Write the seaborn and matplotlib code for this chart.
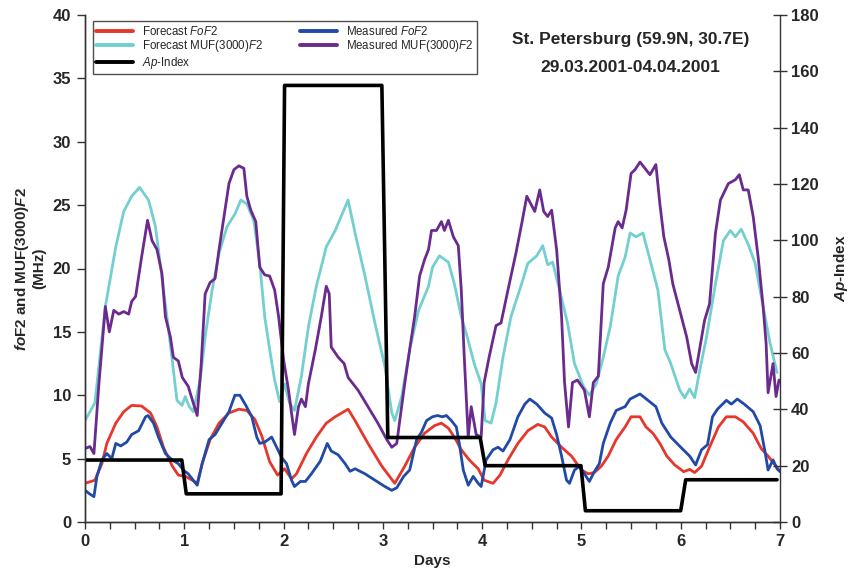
import matplotlib
matplotlib.use("Agg")
import matplotlib.pyplot as plt
from matplotlib.ticker import MultipleLocator
import seaborn as sns

# ── data (days, MHz / Ap) ─────────────────────────────────────────────────────
fc_muf_day = [0.0, 0.10, 0.205, 0.31, 0.39, 0.47, 0.55, 0.64, 0.71, 0.775, 0.825, 0.875, 0.926, 0.977,
              1.01, 1.05, 1.09, 1.16, 1.21, 1.28, 1.35, 1.43, 1.51, 1.57, 1.63, 1.70, 1.76, 1.81, 1.86,
              1.91, 1.96, 2.01, 2.06, 2.11, 2.18, 2.25, 2.33, 2.43, 2.52, 2.59, 2.65, 2.72, 2.82, 2.92,
              3.02, 3.09, 3.12, 3.19, 3.27, 3.36, 3.46, 3.50, 3.57, 3.66, 3.72, 3.79, 3.85, 3.92, 3.99,
              4.03, 4.09, 4.14, 4.21, 4.29, 4.39, 4.46, 4.55, 4.61, 4.66, 4.71, 4.78, 4.86, 4.93, 5.02,
              5.08, 5.15, 5.22, 5.29, 5.37, 5.44, 5.49, 5.55, 5.62, 5.69, 5.77, 5.84, 5.90, 5.99, 6.04,
              6.09, 6.14, 6.19, 6.26, 6.35, 6.43, 6.50, 6.55, 6.61, 6.68, 6.75, 6.83, 6.90, 6.97]
fc_muf_val = [8.0, 9.4, 17.0, 21.7, 24.5, 25.7, 26.4, 25.4, 23.3, 19.3, 16.2, 13.0, 9.6, 9.2,
              9.9, 9.1, 8.7, 11.2, 14.6, 18.3, 21.2, 23.3, 24.3, 25.4, 25.1, 23.8, 20.4, 16.2, 13.6,
              11.2, 9.5, 10.9, 9.4, 8.8, 11.5, 15.4, 18.6, 21.7, 23.0, 24.3, 25.4, 22.8, 19.4, 15.7,
              12.3, 8.6, 8.0, 9.9, 13.6, 16.7, 18.6, 20.1, 21.0, 20.5, 18.8, 16.2, 14.6, 12.5, 10.9,
              8.0, 7.8, 9.4, 13.0, 16.2, 18.6, 20.4, 21.0, 21.8, 20.3, 20.5, 18.3, 15.7, 12.5, 10.7,
              10.0, 10.9, 13.0, 15.4, 19.4, 20.9, 22.8, 22.5, 22.8, 20.7, 18.3, 13.6, 12.5, 10.4, 9.8,
              10.5, 9.8, 11.9, 14.6, 18.8, 22.2, 23.0, 22.5, 23.1, 21.9, 20.4, 17.0, 14.1, 11.8]

ms_muf_day = [0.0, 0.05, 0.09, 0.14, 0.18, 0.205, 0.245, 0.29, 0.34, 0.39, 0.44, 0.47, 0.51, 0.57, 0.63,
              0.675, 0.725, 0.775, 0.81, 0.86, 0.89, 0.94, 0.98, 1.04, 1.09, 1.13, 1.17, 1.21, 1.26,
              1.31, 1.35, 1.40, 1.45, 1.50, 1.55, 1.60, 1.63, 1.67, 1.72, 1.76, 1.81, 1.86, 1.91, 1.95,
              2.0, 2.05, 2.08, 2.11, 2.15, 2.18, 2.22, 2.25, 2.32, 2.38, 2.43, 2.46, 2.48, 2.55, 2.61,
              2.65, 2.75, 2.85, 2.95, 3.04, 3.09, 3.14, 3.17, 3.22, 3.27, 3.32, 3.37, 3.42, 3.46, 3.49,
              3.54, 3.59, 3.62, 3.66, 3.71, 3.76, 3.79, 3.82, 3.86, 3.89, 3.94, 3.99, 4.02, 4.07, 4.14,
              4.19, 4.26, 4.34, 4.40, 4.45, 4.49, 4.53, 4.58, 4.62, 4.66, 4.70, 4.75, 4.80, 4.83, 4.87,
              4.91, 4.96, 5.03, 5.08, 5.12, 5.17, 5.22, 5.27, 5.34, 5.37, 5.41, 5.45, 5.50, 5.54, 5.59,
              5.64, 5.69, 5.75, 5.79, 5.83, 5.88, 5.92, 5.99, 6.06, 6.11, 6.15, 6.19, 6.24, 6.29, 6.35,
              6.40, 6.48, 6.55, 6.59, 6.63, 6.68, 6.73, 6.78, 6.83, 6.86, 6.88, 6.93, 6.96, 6.99]
ms_muf_val = [5.8, 5.95, 5.4, 10.9, 14.6, 17.0, 15.0, 16.7, 16.4, 16.6, 16.4, 17.4, 17.8, 20.9, 23.8,
              22.2, 21.5, 19.6, 16.2, 14.6, 13.0, 12.7, 11.4, 10.7, 9.4, 8.4, 12.4, 18.0, 18.9,
              19.2, 21.5, 24.1, 26.7, 27.8, 28.1, 27.9, 25.7, 24.6, 23.7, 20.1, 19.5, 19.4, 18.3, 16.2,
              12.8, 10.4, 8.6, 6.9, 9.1, 9.7, 9.1, 10.9, 13.6, 16.2, 18.6, 18.0, 13.8, 13.0, 12.5,
              11.4, 10.4, 9.1, 7.8, 6.5, 5.9, 6.2, 8.0, 10.9, 13.6, 16.2, 19.4, 20.7, 21.5, 23.0,
              23.0, 23.7, 23.0, 23.8, 22.5, 21.8, 18.3, 13.0, 6.7, 9.1, 6.9, 6.7, 11.0, 13.0, 15.5,
              15.7, 18.3, 21.2, 23.6, 25.7, 25.1, 24.5, 26.2, 24.5, 24.1, 24.6, 21.5, 16.2, 11.0, 7.5,
              11.0, 11.2, 10.4, 8.3, 11.0, 11.5, 18.8, 20.1, 23.2, 23.7, 23.2, 24.6, 27.5, 27.8, 28.4,
              27.9, 27.4, 28.2, 25.1, 22.5, 20.7, 18.8, 16.7, 14.6, 12.5, 11.8, 13.6, 15.9, 17.2, 22.8,
              25.4, 26.7, 27.0, 27.4, 26.2, 26.2, 24.1, 20.9, 17.0, 14.1, 10.2, 12.5, 9.9, 11.2]

fc_fof2_day = [0.0, 0.10, 0.17, 0.22, 0.31, 0.39, 0.47, 0.57, 0.66, 0.725, 0.79, 0.88, 0.94, 1.01, 1.08,
               1.13, 1.18, 1.26, 1.35, 1.45, 1.55, 1.63, 1.71, 1.78, 1.86, 1.94, 2.01, 2.08, 2.13, 2.23,
               2.33, 2.43, 2.52, 2.65, 2.72, 2.85, 2.99, 3.12, 3.22, 3.32, 3.42, 3.52, 3.59, 3.66, 3.72,
               3.79, 3.87, 3.96, 4.02, 4.11, 4.18, 4.26, 4.36, 4.46, 4.56, 4.63, 4.70, 4.80, 4.90, 5.00,
               5.07, 5.13, 5.20, 5.27, 5.35, 5.44, 5.50, 5.59, 5.65, 5.72, 5.79, 5.86, 5.94, 6.03, 6.09,
               6.14, 6.21, 6.29, 6.38, 6.46, 6.55, 6.63, 6.73, 6.81, 6.88, 6.95, 6.99]
fc_fof2_val = [3.05, 3.3, 4.6, 6.2, 7.8, 8.7, 9.2, 9.15, 8.6, 7.5, 5.9, 4.4, 3.7, 3.6, 3.3,
               3.05, 4.6, 6.5, 7.8, 8.6, 8.9, 8.8, 8.1, 6.8, 4.75, 3.7, 4.2, 3.4, 3.8, 5.4,
               6.7, 7.8, 8.3, 8.9, 8.0, 6.2, 4.4, 3.05, 4.4, 5.9, 7.0, 7.6, 7.8, 7.4, 6.7,
               5.7, 4.9, 4.2, 3.3, 3.05, 3.7, 4.9, 6.2, 7.2, 7.7, 7.5, 6.7, 5.9, 5.2, 4.1,
               3.8, 3.9, 4.4, 5.2, 6.5, 7.5, 8.3, 8.3, 7.5, 7.0, 6.2, 5.2, 4.5, 3.97, 4.15,
               3.9, 4.4, 5.9, 7.5, 8.3, 8.3, 7.9, 7.0, 5.8, 5.2, 4.5, 4.1]

ms_fof2_day = [0.0, 0.05, 0.09, 0.12, 0.17, 0.22, 0.27, 0.31, 0.36, 0.42, 0.47, 0.54, 0.61, 0.635, 0.69,
               0.74, 0.81, 0.876, 0.94, 0.99, 1.04, 1.09, 1.13, 1.18, 1.25, 1.31, 1.38, 1.45, 1.51, 1.56,
               1.62, 1.68, 1.73, 1.76, 1.81, 1.88, 1.93, 1.98, 2.03, 2.08, 2.11, 2.17, 2.22, 2.28, 2.37,
               2.44, 2.48, 2.55, 2.62, 2.67, 2.72, 2.82, 2.92, 3.02, 3.09, 3.14, 3.21, 3.27, 3.34, 3.39,
               3.44, 3.50, 3.55, 3.60, 3.64, 3.69, 3.74, 3.77, 3.81, 3.86, 3.91, 3.96, 3.99, 4.04, 4.11,
               4.16, 4.21, 4.28, 4.36, 4.43, 4.48, 4.55, 4.63, 4.70, 4.75, 4.80, 4.85, 4.88, 4.93, 4.98,
               5.03, 5.08, 5.13, 5.18, 5.22, 5.29, 5.35, 5.44, 5.49, 5.59, 5.67, 5.75, 5.81, 5.90, 6.00,
               6.09, 6.15, 6.21, 6.27, 6.32, 6.37, 6.46, 6.51, 6.57, 6.64, 6.73, 6.80, 6.85, 6.88, 6.93,
               6.97, 7.00]
ms_fof2_val = [2.5, 2.2, 2.0, 3.6, 4.9, 5.4, 5.0, 6.2, 6.0, 6.3, 6.9, 7.2, 8.3, 8.4, 7.8,
               6.7, 5.4, 4.9, 4.6, 4.1, 3.8, 3.3, 2.9, 4.6, 6.5, 6.9, 7.8, 8.7, 10.0, 10.0,
               9.2, 8.3, 6.7, 6.2, 6.3, 6.7, 5.9, 5.1, 4.6, 3.3, 2.8, 3.2, 3.2, 3.8, 4.8,
               6.2, 5.6, 5.3, 4.6, 4.0, 4.2, 3.8, 3.3, 2.8, 2.5, 2.7, 3.6, 4.1, 6.5, 7.1,
               8.0, 8.3, 8.4, 8.3, 8.4, 8.0, 7.5, 6.2, 4.1, 2.9, 3.6, 3.05, 2.8, 4.9, 5.7,
               5.9, 5.6, 6.5, 8.3, 9.3, 9.7, 9.3, 8.6, 8.2, 6.9, 5.2, 3.3, 3.05, 4.1, 4.4,
               3.8, 3.2, 3.97, 4.6, 6.2, 7.8, 8.8, 9.1, 9.7, 10.1, 9.6, 9.1, 7.8, 6.7, 5.9,
               5.2, 4.5, 5.7, 6.1, 8.3, 8.9, 9.6, 9.3, 9.7, 9.3, 8.7, 7.6, 5.5, 4.1, 4.9,
               4.2, 3.97]

ap_day = [0.0, 0.975, 1.02, 1.975, 2.01, 2.99, 3.05, 3.98, 4.03, 4.995, 5.04, 6.0, 6.05, 6.97]
ap_val = [22, 22, 10, 10, 155, 155, 30, 30, 20, 20, 4, 4, 15, 15]

# ── style ─────────────────────────────────────────────────────────────────────
sns.set_style("ticks")
plt.rcParams["font.family"] = ["Liberation Sans", "DejaVu Sans"]
plt.rcParams["mathtext.fontset"] = "custom"
plt.rcParams["mathtext.rm"] = "Liberation Sans"
plt.rcParams["mathtext.it"] = "Liberation Sans:italic"
plt.rcParams["mathtext.bf"] = "Liberation Sans:bold"
plt.rcParams["mathtext.bfit"] = "Liberation Sans:italic:bold"

C_RED, C_CYAN, C_BLUE, C_PURP = "#e5372b", "#74cfcf", "#2149a6", "#6b2a8e"
LW = 2.0

fig = plt.figure(figsize=(8.55, 5.74), dpi=100)
ax = fig.add_axes([85/855, 1-522/574, 695/855, 507/574])
ax2 = ax.twinx()

kw = dict(estimator=None, sort=False, lw=LW)
sns.lineplot(x=fc_fof2_day, y=fc_fof2_val, ax=ax, color=C_RED, label=r"Forecast $\mathit{FoF}$2", **kw)
sns.lineplot(x=fc_muf_day, y=fc_muf_val, ax=ax, color=C_CYAN, label=r"Forecast MUF(3000)$\mathit{F}$2", **kw)
sns.lineplot(x=ms_fof2_day, y=ms_fof2_val, ax=ax, color=C_BLUE, label=r"Measured $\mathit{FoF}$2", **kw)
sns.lineplot(x=ms_muf_day, y=ms_muf_val, ax=ax, color=C_PURP, label=r"Measured MUF(3000)$\mathit{F}$2", **kw)
sns.lineplot(x=ap_day, y=ap_val, ax=ax2, color="black", label=r"$\mathit{Ap}$-Index",
             estimator=None, sort=False, lw=2.6)

ax.set_xlim(0, 7); ax.set_ylim(0, 40)
ax2.set_ylim(0, 180)
ax.xaxis.set_major_locator(MultipleLocator(1))
ax.xaxis.set_minor_locator(MultipleLocator(0.25))
ax.yaxis.set_major_locator(MultipleLocator(5))
ax2.yaxis.set_major_locator(MultipleLocator(20))

for a in (ax, ax2):
    a.spines["top"].set_visible(False)
    for s in ("left", "right", "bottom"):
        a.spines[s].set_color("#333333"); a.spines[s].set_linewidth(1.0)
ax.spines["right"].set_visible(False)

ax.tick_params(axis="x", which="both", direction="out", length=5, width=1, color="#333333", pad=4)
ax.tick_params(axis="y", direction="out", length=6, width=1, color="#333333", pad=4)
ax2.tick_params(axis="y", direction="inout", length=10, width=1, color="#333333", pad=3)
for lab in ax.get_xticklabels() + ax.get_yticklabels() + ax2.get_yticklabels():
    lab.set_fontweight("bold"); lab.set_fontsize(12)

ax.set_xlabel("Days", fontsize=11, fontweight="bold", labelpad=3)
ax.set_ylabel(r"$\mathbfit{fo}\mathbf{F2}$ and MUF(3000)$\mathbfit{F}\mathbf{2}$" + "\n(MHz)",
              fontsize=11, fontweight="bold", linespacing=1.1)
ax.yaxis.set_label_coords(-0.056, 0.5)
ax2.set_ylabel(r"$\mathbfit{Ap}$-Index", fontsize=11, fontweight="bold")
ax2.yaxis.set_label_coords(1.075, 0.5)

ax.text(0.785, 0.951, "St. Petersburg (59.9N, 30.7E)", transform=ax.transAxes,
        ha="center", va="center", fontsize=12.5, fontweight="bold")
ax.text(0.785, 0.897, "29.03.2001-04.04.2001", transform=ax.transAxes,
        ha="center", va="center", fontsize=12.5, fontweight="bold")

# combined legend: forecast column / measured column
h1, l1 = ax.get_legend_handles_labels()
h2, l2 = ax2.get_legend_handles_labels()
if ax2.get_legend(): ax2.get_legend().remove()
handles = [h1[0], h1[1], h2[0], h1[2], h1[3]]
labels = [l1[0], l1[1], l2[0], l1[2], l1[3]]
leg = ax.legend(handles, labels, loc="upper left", bbox_to_anchor=(0.011, 0.988), ncol=2,
                fontsize=8.3, frameon=True, fancybox=False, borderaxespad=0, labelspacing=0.05,
                handlelength=3.2, handletextpad=0.8, columnspacing=3.2, borderpad=0.3)
leg.get_frame().set_edgecolor("#222222"); leg.get_frame().set_linewidth(1.0)
for ln in leg.get_lines():
    ln.set_linewidth(2.8)

fig.savefig("out.png", dpi=100)
